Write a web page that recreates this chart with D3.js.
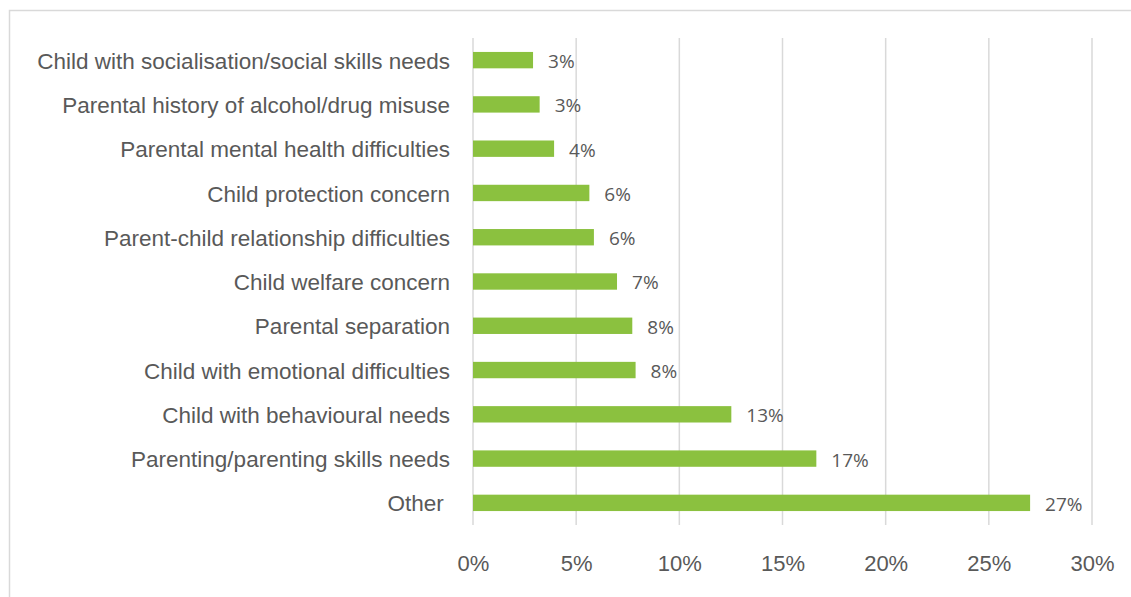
<!DOCTYPE html>
<html>
<head>
<meta charset="utf-8">
<script src="https://cdn.jsdelivr.net/npm/d3@7"></script>
<style>
  html, body { margin: 0; padding: 0; background: #fff; }
  svg { display: block; }
</style>
</head>
<body>
<svg id="chart" width="1131" height="597"></svg>
<script>
// Reasons for referral, share of cases (top to bottom)
const categories = [
  "Child with socialisation/social skills needs",
  "Parental history of alcohol/drug misuse",
  "Parental mental health difficulties",
  "Child protection concern",
  "Parent-child relationship difficulties",
  "Child welfare concern",
  "Parental separation",
  "Child with emotional difficulties",
  "Child with behavioural needs",
  "Parenting/parenting skills needs",
  "Other "
];
const values = [0.0291, 0.0323, 0.0393, 0.0564, 0.0586, 0.0698, 0.0772, 0.0788, 0.1252, 0.1664, 0.2700];
const xTicks = [0, 0.05, 0.10, 0.15, 0.20, 0.25, 0.30];

const svg = d3.select("#chart");
const textColor = "#595959";
const gridColor = "#d9d9d9";
const barColor = "#8bc13f";

// Outer chart frame (runs past the right and bottom edges)
svg.append("rect")
  .attr("x", 9.5).attr("y", 10.5)
  .attr("width", 1140).attr("height", 600)
  .attr("fill", "none")
  .attr("stroke", gridColor)
  .attr("stroke-width", 1.5);

const plot = { left: 473, right: 1092, top: 38, bottom: 525 };

const x = d3.scaleLinear().domain([0, 0.30]).range([plot.left, plot.right]);
const y = d3.scaleBand().domain(categories).range([plot.top, plot.bottom]).paddingInner(0.63).paddingOuter(0.315);

// Vertical gridlines
svg.append("g")
  .selectAll("line")
  .data(xTicks)
  .join("line")
  .attr("x1", d => x(d)).attr("x2", d => x(d))
  .attr("y1", plot.top).attr("y2", plot.bottom)
  .attr("stroke", gridColor)
  .attr("stroke-width", 1.5);

// X axis tick labels
const xAxis = d3.axisBottom(x).tickValues(xTicks).tickFormat(d3.format(".0%")).tickSize(0).tickPadding(0);
const gx = svg.append("g").attr("transform", `translate(0,${plot.bottom + 46})`).call(xAxis);
gx.select(".domain").remove();
gx.selectAll("text")
  .attr("dy", "0")
  .attr("fill", textColor)
  .style("font-family", "'Liberation Sans', Arial, sans-serif")
  .style("font-size", "22px");

// Y axis category labels
const yAxis = d3.axisLeft(y).tickSize(0).tickPadding(0);
const gy = svg.append("g").attr("transform", `translate(${plot.left - 23},0)`).call(yAxis);
gy.select(".domain").remove();
gy.selectAll("text")
  .attr("dy", "0.38em")
  .attr("fill", textColor)
  .style("font-family", "'Liberation Sans', Arial, sans-serif")
  .style("font-size", "22.5px")
  .style("white-space", "pre");

// Bars
const data = categories.map((c, i) => ({ c, v: values[i] }));
svg.append("g")
  .selectAll("rect")
  .data(data)
  .join("rect")
  .attr("x", x(0))
  .attr("y", d => y(d.c))
  .attr("width", d => x(d.v) - x(0))
  .attr("height", y.bandwidth())
  .attr("fill", barColor);

// Value labels
svg.append("g")
  .selectAll("text")
  .data(data)
  .join("text")
  .attr("x", d => x(d.v) + 15)
  .attr("y", d => y(d.c) + y.bandwidth() / 2)
  .attr("dy", "0.42em")
  .attr("fill", textColor)
  .style("font-family", "'Open Sans', sans-serif")
  .style("font-size", "19px")
  .text(d => d3.format(".0%")(d.v));
</script>
</body>
</html>
